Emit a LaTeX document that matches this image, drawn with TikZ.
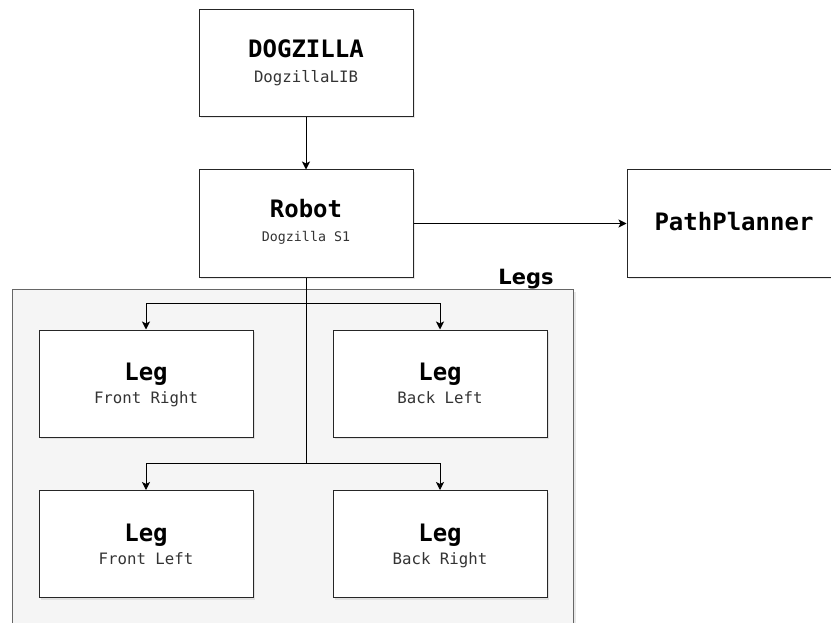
\documentclass[tikz,border=0pt]{standalone}
\usepackage{fontspec}
\setmonofont{DejaVu Sans Mono}
\newfontfamily\groupfont{DejaVu Sans}
\usepackage{tikz}
\usetikzlibrary{arrows.meta,positioning,shadows}
\definecolor{groupfill}{HTML}{F5F5F5}
\definecolor{groupline}{HTML}{666666}
\definecolor{subtext}{HTML}{333333}

\begin{document}
\begin{tikzpicture}[
    x=1pt, y=-1pt,
    partbox/.style={rectangle, draw=black!85, fill=white, line width=1pt, minimum width=214pt, minimum height=107pt, inner sep=0pt, drop shadow={shadow xshift=2pt, shadow yshift=-2pt, opacity=0.18}},
    parttitle/.style={anchor=base, inner sep=0pt, font=\ttfamily\bfseries\fontsize{24}{28}\selectfont},
    partsub/.style={anchor=base, inner sep=0pt, text=subtext, font=\ttfamily\fontsize{15.7}{18}\selectfont},
    link/.style={-{Stealth[length=8pt, width=8pt, inset=2pt]}, line width=1pt}
]
    \useasboundingbox (0,0) rectangle (831,623);

    % group of legs
    \node[rectangle, draw=groupline, fill=groupfill, line width=1pt, minimum width=561pt, minimum height=360pt, inner sep=0pt, anchor=north west, drop shadow={shadow xshift=2pt, shadow yshift=-2pt, opacity=0.18}] (legs) at (12,289) {};
    \node[anchor=base, inner sep=0pt, font=\groupfont\bfseries\fontsize{21}{24}\selectfont] (legs-t) at (526,284) {Legs};

    \node[partbox] (dogzilla) at (306,63) {};
    \node[parttitle] (dogzilla-t) at (306,58) {DOGZILLA};
    \node[partsub] (dogzilla-s) at (306,83) {DogzillaLIB};

    \node[partbox] (robot) at (306,223.5) {};
    \node[parttitle] (robot-t) at (306,218) {Robot};
    \node[partsub, font=\ttfamily\fontsize{13.3}{16}\selectfont] (robot-s) at (306,242) {Dogzilla S1};

    \node[partbox] (planner) at (734,223.5) {};
    \node[parttitle] (planner-t) at (734,230) {PathPlanner};

    \node[partbox] (legFR) at (146,383.5) {};
    \node[parttitle] (legFR-t) at (146,380) {Leg};
    \node[partsub] (legFR-s) at (146,403) {Front Right};

    \node[partbox] (legBL) at (440,383.5) {};
    \node[parttitle] (legBL-t) at (440,380) {Leg};
    \node[partsub] (legBL-s) at (440,403) {Back Left};

    \node[partbox] (legFL) at (146,544) {};
    \node[parttitle] (legFL-t) at (146,541) {Leg};
    \node[partsub] (legFL-s) at (146,564) {Front Left};

    \node[partbox] (legBR) at (440,544) {};
    \node[parttitle] (legBR-t) at (440,541) {Leg};
    \node[partsub] (legBR-s) at (440,564) {Back Right};

    \coordinate (split1) at (306,303);
    \coordinate (split2) at (306,463);

    \draw[link] (dogzilla) -- (robot);
    \draw[link] (robot) -- (planner);
    \draw[line width=1pt] (robot.south) -- (split2);
    \draw[link] (split1) -| (legFR.north);
    \draw[link] (split1) -| (legBL.north);
    \draw[link] (split2) -| (legFL.north);
    \draw[link] (split2) -| (legBR.north);
\end{tikzpicture}
\end{document}
